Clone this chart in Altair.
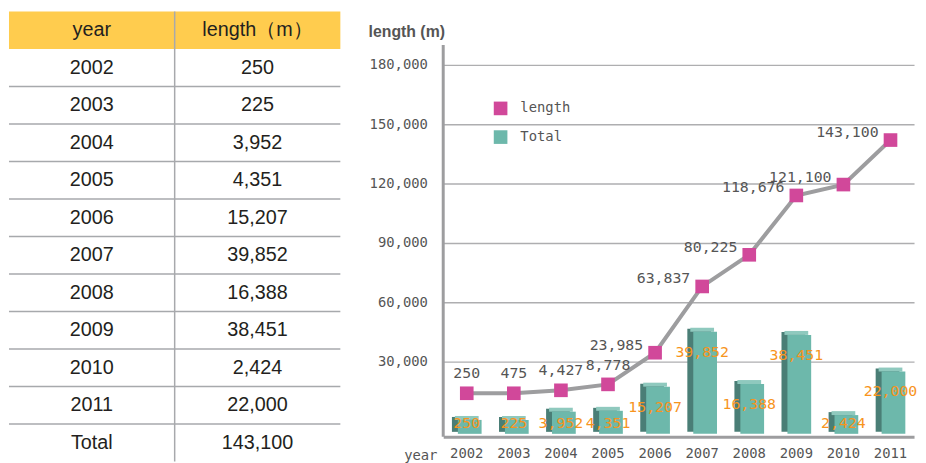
import altair as alt
import pandas as pd

# ---------------- data ----------------
years = ["2002", "2003", "2004", "2005", "2006", "2007", "2008", "2009", "2010", "2011"]
length_m = [250, 225, 3952, 4351, 15207, 39852, 16388, 38451, 2424, 22000]
length_text = ["250", "225", "3,952", "4,351", "15,207", "39,852", "16,388", "38,451", "2,424", "22,000"]
total_text = "143,100"
cumulative_text = ["250", "475", "4,427", "8,778", "23,985", "63,837", "80,225", "118,676", "121,100", "143,100"]
# height at which each cumulative point is drawn in the picture (axis units)
line_plotted = [14000, 14000, 15500, 18500, 34500, 68000, 84000, 114000, 119500, 142000]
y_ticks = [30000, 60000, 90000, 120000, 150000, 180000]
header = ["year", "length（m）"]

MONO = "DejaVu Sans Mono"
SANS = "Liberation Sans"
TXT = "#555555"
LINE_GRAY = "#9D9D9F"
GRID = "#AEAEB0"

# ---------------- table ----------------
row_keys = ["hdr"] + years + ["Total"]
cells = [
    {"row": "hdr", "col": "c1", "text": header[0], "kind": "hdr"},
    {"row": "hdr", "col": "c2", "text": header[1], "kind": "hdr"},
]
for y, t in zip(years, length_text):
    cells.append({"row": y, "col": "c1", "text": y, "kind": "body"})
    cells.append({"row": y, "col": "c2", "text": t, "kind": "body"})
cells.append({"row": "Total", "col": "c1", "text": "Total", "kind": "body"})
cells.append({"row": "Total", "col": "c2", "text": total_text, "kind": "body"})
cells_df = pd.DataFrame(cells)

xs = alt.Scale(domain=["c1", "c2"], paddingInner=0, paddingOuter=0)
ys = alt.Scale(domain=row_keys, paddingInner=0, paddingOuter=0)
tx = alt.X("col:N", scale=xs, axis=None)
ty = alt.Y("row:N", scale=ys, axis=None)

hdr_rect = (
    alt.Chart(cells_df)
    .transform_filter("datum.kind == 'hdr'")
    .mark_rect(color="#FFCC4E")
    .encode(x=tx, y=ty)
)
hlines = (
    alt.Chart(pd.DataFrame({"row": years[1:] + ["Total"]}))
    .mark_rule(color="#A7A9AC", strokeWidth=1.5)
    .encode(y=alt.Y("row:N", bandPosition=0, scale=ys, axis=None))
)
vline = (
    alt.Chart(pd.DataFrame({"col": ["c2"]}))
    .mark_rule(color="#A7A9AC", strokeWidth=1.5)
    .encode(x=alt.X("col:N", bandPosition=0, scale=xs, axis=None))
)
cell_text = (
    alt.Chart(cells_df)
    .mark_text(font=SANS, fontSize=20, color="#231F20", baseline="middle")
    .encode(x=tx, y=ty, text="text:N")
)
table = alt.layer(hdr_rect, hlines, vline, cell_text).properties(width=335, height=455)

# ---------------- main chart ----------------
df = pd.DataFrame({
    "year": years,
    "length": length_m,
    "lentext": length_text,
    "cumtext": cumulative_text,
    "plotted": line_plotted,
})

x_enc = alt.X(
    "year:O",
    scale=alt.Scale(paddingInner=0, paddingOuter=0),
    axis=alt.Axis(
        labelAngle=0, labelFont=MONO, labelFontSize=14, labelColor=TXT,
        domainColor=LINE_GRAY, domainWidth=3, ticks=False, labelPadding=10,
        title="year", titleAngle=0, titleAlign="left", titleBaseline="middle",
        titleX=-40, titleY=19, titleFont=MONO, titleFontSize=14,
        titleFontWeight="normal", titleColor=TXT,
    ),
)

main_scale = alt.Scale(domain=[-8000, 207000], nice=False, zero=False)
bar_scale = alt.Scale(domain=[-7333, 183778], nice=False, zero=False)
color_scale = alt.Scale(domain=["length", "Total"], range=["#D1489A", "#6DB8AB"])
leg = alt.Legend(
    orient="none", legendX=489, legendY=90, title=None, symbolType="square",
    symbolSize=190, labelFont=MONO, labelFontSize=14, labelColor=TXT,
    rowPadding=14, labelOffset=12, padding=0,
)

base = alt.Chart(df)

bar_dark = base.mark_bar(color="#4A7E76", size=24, xOffset=-3, yOffset=-3, y2Offset=-2).encode(
    x=x_enc,
    y=alt.Y("length:Q", scale=bar_scale, axis=None),
    y2=alt.datum(-6000),
)
bar_top = base.mark_bar(color="#8FC9BE", size=24, xOffset=0, yOffset=-4).encode(
    x=x_enc,
    y=alt.Y("length:Q", scale=bar_scale, axis=None),
    y2=alt.Y2("length:Q"),
)
bar_front = base.transform_calculate(series="'Total'").mark_bar(size=24, xOffset=3).encode(
    x=x_enc,
    y=alt.Y("length:Q", scale=bar_scale, axis=None),
    y2=alt.datum(-6000),
    color=alt.Color("series:N", scale=color_scale, legend=leg),
)
bar_labels = (
    base.transform_calculate(lp="max(datum.length - 9000, -1000)")
    .mark_text(font=MONO, fontSize=15, color="#F7941D", baseline="middle")
    .encode(x=x_enc, y=alt.Y("lp:Q", scale=bar_scale, axis=None), text="lentext:N")
)

y_axis_line = alt.Chart(pd.DataFrame({"k": [0]})).mark_rule(color=LINE_GRAY, strokeWidth=3).encode(
    x=alt.value(0),
    y=alt.Y(datum=-8000, scale=main_scale, axis=None),
    y2=alt.Y2(datum=190000),
)

line = base.mark_line(color=LINE_GRAY, strokeWidth=4).encode(
    x=x_enc,
    y=alt.Y(
        "plotted:Q", scale=main_scale,
        axis=alt.Axis(
            values=y_ticks, format=",", labelExpr="format(datum.value, ',')",
            labelFont=MONO, labelFontSize=14, labelColor=TXT,
            grid=True, gridColor=GRID, gridWidth=1.5, domain=False, ticks=False,
            labelPadding=16, title="length (m)", titleAngle=0, titleAlign="left",
            titleBaseline="middle", titleX=-76, titleY=20, titleFont=SANS,
            titleFontSize=16, titleFontWeight="bold", titleColor=TXT,
        ),
    ),
)
points = base.transform_calculate(series="'length'").mark_point(
    shape="square", filled=True, size=190, opacity=1
).encode(
    x=x_enc,
    y=alt.Y("plotted:Q", scale=main_scale, axis=None),
    color=alt.Color("series:N", scale=color_scale, legend=leg),
)
lab_low = (
    base.transform_filter(alt.FieldOneOfPredicate(field="year", oneOf=years[:4]))
    .mark_text(font=MONO, fontSize=15, color=TXT, baseline="middle", dy=-20)
    .encode(x=x_enc, y=alt.Y("plotted:Q", scale=main_scale, axis=None), text="cumtext:N")
)
lab_high = (
    base.transform_filter(alt.FieldOneOfPredicate(field="year", oneOf=years[4:]))
    .mark_text(font=MONO, fontSize=15, color=TXT, baseline="middle", align="right", dx=-12, dy=-8)
    .encode(x=x_enc, y=alt.Y("plotted:Q", scale=main_scale, axis=None), text="cumtext:N")
)

main = (
    alt.layer(bar_dark, bar_top, bar_front, bar_labels, y_axis_line, line, points, lab_low, lab_high)
    .resolve_scale(y="independent")
    .properties(width=476, height=430)
)

chart = (
    alt.hconcat(table, main, spacing=27)
    .properties(padding=0)
    .configure_view(stroke=None)
)

chart.save("out.html", embed_options={"renderer": "svg", "actions": False})
